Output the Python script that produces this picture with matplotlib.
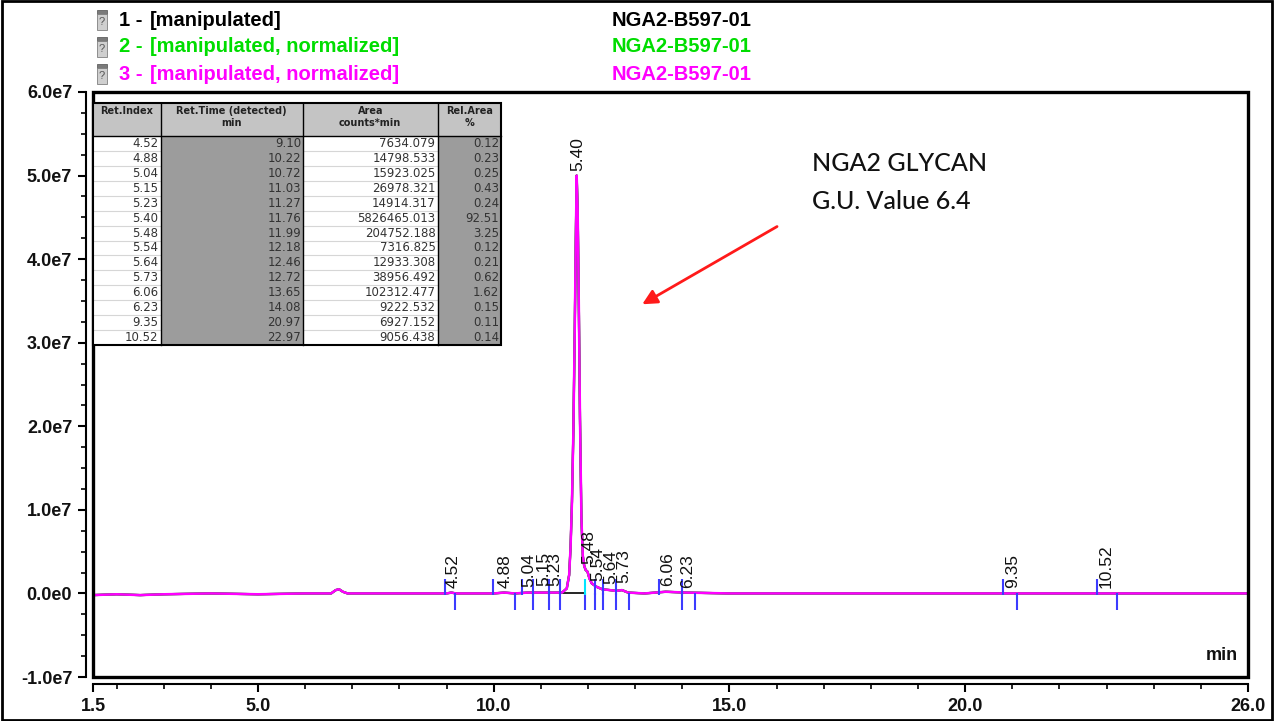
import matplotlib
matplotlib.use("Agg")
import matplotlib.pyplot as plt
from matplotlib.patches import Rectangle
from matplotlib.lines import Line2D
from matplotlib.ticker import FixedLocator, FixedFormatter, MultipleLocator

plt.rcParams['font.family'] = ['Liberation Sans', 'DejaVu Sans']

# ---------------- data ----------------
SCALE = 1e7  # signal values below are in units of 1e7 counts

trace_time = [1.5, 2.0, 2.5, 3.0, 4.0, 5.0, 6.0, 6.55, 6.65, 6.72, 6.80, 6.90, 7.5, 8.5,
              9.0, 9.1, 9.2, 10.0, 10.22, 10.45, 10.72, 11.03, 11.27, 11.45, 11.55, 11.60,
              11.63, 11.66, 11.69, 11.72, 11.74, 11.76, 11.78, 11.80, 11.83, 11.86, 11.89,
              11.92, 11.95, 11.99, 12.03, 12.08, 12.18, 12.30, 12.46, 12.60, 12.72, 12.85,
              13.2, 13.65, 14.08, 15.0, 18.0, 20.97, 22.97, 24.0, 26.0]
trace_signal = [-0.02, -0.01, -0.02, -0.01, 0.0, -0.01, 0.0, 0.0, 0.04, 0.05, 0.02, 0.0, 0.0, 0.0,
                0.0, 0.01, 0.0, 0.0, 0.01, 0.0, 0.01, 0.01, 0.01, 0.01, 0.06, 0.22,
                0.55, 1.10, 1.95, 3.20, 4.20, 5.00, 4.60, 3.75, 2.10, 0.90, 0.45,
                0.33, 0.28, 0.26, 0.18, 0.12, 0.08, 0.05, 0.04, 0.03, 0.04, 0.01,
                0.0, 0.02, 0.01, 0.0, 0.0, 0.0, 0.0, 0.0, 0.0]

peak_labels = ["4.52", "4.88", "5.04", "5.15", "5.23", "5.40", "5.48", "5.54",
               "5.64", "5.73", "6.06", "6.23", "9.35", "10.52"]
peak_rt = [9.10, 10.22, 10.72, 11.03, 11.27, 11.76, 11.99, 12.18, 12.46, 12.72,
           13.65, 14.08, 20.97, 22.97]
peak_start = [8.97, 9.99, 10.59, 10.83, 11.18, 11.41, 11.94, 12.15, 12.31, 12.59,
              13.51, 13.99, 20.81, 22.79]
peak_end = [9.18, 10.45, 10.83, 11.18, 11.41, 11.94, 12.15, 12.31, 12.59, 12.88,
            13.99, 14.27, 21.11, 23.22]
peak_height = [0.02, 0.02, 0.03, 0.04, 0.04, 5.00, 0.30, 0.10, 0.06, 0.07,
               0.04, 0.02, 0.01, 0.01]

table_headers = ["Ret.Index", "Ret.Time (detected)\nmin", "Area\ncounts*min", "Rel.Area\n%"]
table_ret_index = ["4.52", "4.88", "5.04", "5.15", "5.23", "5.40", "5.48", "5.54",
                   "5.64", "5.73", "6.06", "6.23", "9.35", "10.52"]
table_ret_time = ["9.10", "10.22", "10.72", "11.03", "11.27", "11.76", "11.99", "12.18",
                  "12.46", "12.72", "13.65", "14.08", "20.97", "22.97"]
table_area = ["7634.079", "14798.533", "15923.025", "26978.321", "14914.317", "5826465.013",
              "204752.188", "7316.825", "12933.308", "38956.492", "102312.477", "9222.532",
              "6927.152", "9056.438"]
table_rel_area = ["0.12", "0.23", "0.25", "0.43", "0.24", "92.51", "3.25", "0.12",
                  "0.21", "0.62", "1.62", "0.15", "0.11", "0.14"]

series_numbers = ["1 -", "2 -", "3 -"]
series_names = ["[manipulated]", "[manipulated, normalized]", "[manipulated, normalized]"]
series_samples = ["NGA2-B597-01", "NGA2-B597-01", "NGA2-B597-01"]
series_colors = ["#000000", "#00dd00", "#ff00ff"]

x_ticks = [1.5, 5.0, 10.0, 15.0, 20.0, 26.0]
x_tick_labels = ["1.5", "5.0", "10.0", "15.0", "20.0", "26.0"]
y_ticks = [-1e7, 0, 1e7, 2e7, 3e7, 4e7, 5e7, 6e7]
y_tick_labels = ["-1.0e7", "0.0e0", "1.0e7", "2.0e7", "3.0e7", "4.0e7", "5.0e7", "6.0e7"]

annotation_lines = ["NGA2 GLYCAN", "G.U. Value 6.4"]

# ---------------- figure ----------------
W, H = 1274, 721
fig = plt.figure(figsize=(W / 100, H / 100), dpi=100)
fig.patch.set_facecolor("white")


def fx(px):
    return px / W


def fy(py):
    return 1 - py / H


ax_l, ax_r, ax_t, ax_b = 93, 1248, 92, 677
ax = fig.add_axes([fx(ax_l), fy(ax_b), (ax_r - ax_l) / W, (ax_b - ax_t) / H])
ax.set_xlim(1.5, 26.0)
ax.set_ylim(-1e7, 6e7)

# traces (black, green, magenta on top)
sig = [v * SCALE for v in trace_signal]
for col, lw in zip(series_colors, [1.6, 1.6, 1.8]):
    ax.plot(trace_time, sig, color=col, lw=lw, zorder=3)

# integration baseline of main peak
ax.plot([peak_start[5], peak_end[5]], [0, 0], color="black", lw=1.2, zorder=2)

# peak start / end markers
blue = "#3c3cff"
for i, (s, e) in enumerate(zip(peak_start, peak_end)):
    c = "#00e5ff" if i == 6 else blue
    ax.vlines(s, -0.02 * SCALE, 0.17 * SCALE, color=c, lw=1.5, zorder=4)
    ax.vlines(e, -0.20 * SCALE, 0.0, color=blue, lw=1.5, zorder=4)

# peak labels
for lab, rt, h in zip(peak_labels, peak_rt, peak_height):
    ax.annotate(lab, (rt, h * SCALE), xytext=(1, 3), textcoords="offset points",
                rotation=90, ha="center", va="bottom", fontsize=12.5, color="#111111",
                zorder=5)

# arrow + annotation text
ax.annotate("", xy=(13.15, 3.46e7), xytext=(16.01, 4.39e7),
            arrowprops=dict(arrowstyle="-|>", color="#ff1a1a", lw=2,
                            mutation_scale=22, shrinkA=0, shrinkB=0), zorder=6)
for line, yv in zip(annotation_lines, [5.15e7, 4.69e7]):
    ax.text(16.75, yv, line, fontsize=18, family=["Lato", "DejaVu Sans"],
            fontweight="medium", va="center", ha="left", color="#111111")

# axes styling
for sp in ["top", "right"]:
    ax.spines[sp].set_visible(False)
ax.spines["left"].set_position(("outward", 5))
ax.spines["bottom"].set_position(("outward", 5))
ax.spines["left"].set_linewidth(1.5)
ax.spines["bottom"].set_linewidth(1.5)
ax.add_patch(Rectangle((0, 0), 1, 1, transform=ax.transAxes, fill=False,
                       ec="black", lw=2.4, clip_on=False, zorder=7))

ax.xaxis.set_major_locator(FixedLocator(x_ticks))
ax.xaxis.set_major_formatter(FixedFormatter(x_tick_labels))
ax.xaxis.set_minor_locator(MultipleLocator(1.0))
ax.yaxis.set_major_locator(FixedLocator(y_ticks))
ax.yaxis.set_major_formatter(FixedFormatter(y_tick_labels))
ax.yaxis.set_minor_locator(MultipleLocator(2.5e6))
ax.tick_params(which="major", direction="out", length=6, width=1.5, labelsize=13, pad=4)
ax.tick_params(which="minor", direction="out", length=3.5, width=1.2)
for lbl in ax.get_xticklabels() + ax.get_yticklabels():
    lbl.set_fontweight("bold")
    lbl.set_color("#111111")

ax.text(0.991, 0.036, "min", transform=ax.transAxes, ha="right", va="center",
        fontsize=13, fontweight="bold", color="#111111")

# ---------------- table ----------------
col_edges = [93, 160.5, 303, 437.5, 501]
t_top, t_head, t_bot = 103, 136, 345
row_h = (t_bot - t_head) / len(table_ret_index)
columns = [table_ret_index, table_ret_time, table_area, table_rel_area]


def add_rect(x0, y0, x1, y1, **kw):
    fig.add_artist(Rectangle((fx(x0), fy(y1)), fx(x1) - fx(x0), fy(y0) - fy(y1),
                             transform=fig.transFigure, **kw))


def add_line(x0, y0, x1, y1, **kw):
    fig.add_artist(Line2D([fx(x0), fx(x1)], [fy(y0), fy(y1)], transform=fig.transFigure, **kw))


for c in range(4):
    x0, x1 = col_edges[c], col_edges[c + 1]
    add_rect(x0, t_top, x1, t_head, fc="#c4c4c4", ec="none", zorder=2)
    add_rect(x0, t_head, x1, t_bot, fc=("#9c9c9c" if c in (1, 3) else "white"),
             ec="none", zorder=2)
    fig.text(fx((x0 + x1) / 2), fy(t_top + 3), table_headers[c], ha="center", va="top",
             fontsize=7, family=["DejaVu Sans"], fontweight="bold", color="#222222",
             linespacing=1.3, zorder=4)
    for r, val in enumerate(columns[c]):
        yc = t_head + (r + 0.5) * row_h
        fig.text(fx(x1 - 2), fy(yc), val, ha="right", va="center", fontsize=8.5,
                 family=["DejaVu Sans"], color="#333333", zorder=4)
        if c in (0, 2) and r > 0:
            add_line(x0, t_head + r * row_h, x1, t_head + r * row_h, color="#d6d6d6",
                     lw=0.8, zorder=3)

for xe in col_edges[1:-1]:
    add_line(xe, t_top, xe, t_bot, color="black", lw=1.0, zorder=3)
add_line(col_edges[0], t_head, col_edges[-1], t_head, color="black", lw=1.0, zorder=3)
add_rect(col_edges[0], t_top, col_edges[-1], t_bot, fill=False, ec="black", lw=1.5, zorder=3)

# ---------------- legend header ----------------
row_y = [20, 47, 74]
for num, name, samp, col, yc in zip(series_numbers, series_names, series_samples,
                                    series_colors, row_y):
    add_rect(97, yc - 10, 107, yc - 6, fc="#7a7a7a", ec="#606060", lw=0.6, zorder=2)
    add_rect(97, yc - 6, 107, yc + 10, fc="#cfcfcf", ec="#808080", lw=0.6, zorder=2)
    fig.text(fx(102), fy(yc + 2), "?", ha="center", va="center", fontsize=8,
             color="#555555", zorder=3)
    fig.text(fx(119), fy(yc), num, ha="left", va="center", fontsize=14.5,
             fontweight="bold", color=col)
    fig.text(fx(150), fy(yc), name, ha="left", va="center", fontsize=14.5,
             fontweight="bold", color=col)
    fig.text(fx(612), fy(yc), samp, ha="left", va="center", fontsize=14.5,
             fontweight="bold", color=col)

# outer frame
fig.add_artist(Rectangle((0.0012, 0.002), 0.9976, 0.996, transform=fig.transFigure,
                         fill=False, ec="black", lw=2.0))

fig.savefig("out.png", dpi=100)
